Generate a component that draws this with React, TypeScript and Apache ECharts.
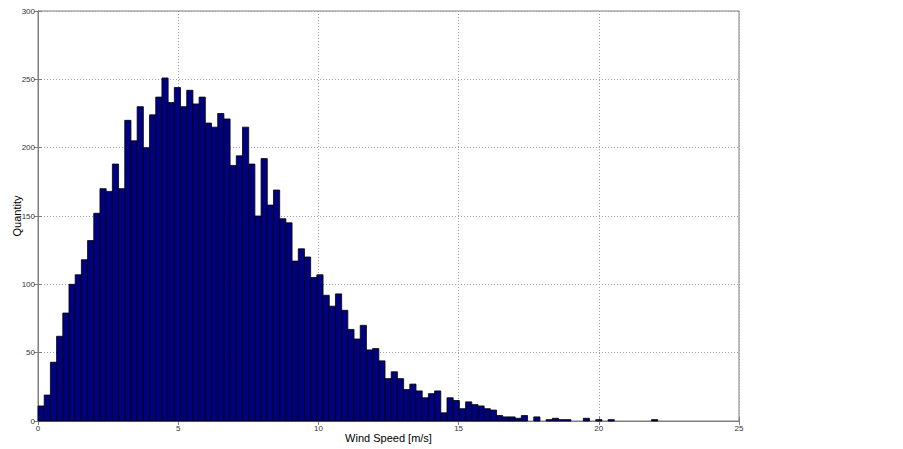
import React, { useEffect, useRef } from "react";
import * as echarts from "echarts";

const binWidth = 0.221;
const counts: number[] = [
  11, 19, 43, 62, 79, 100, 107, 118, 132, 152,
  170, 168, 188, 170, 220, 205, 230, 200, 224, 237,
  251, 233, 244, 230, 242, 232, 237, 218, 215, 225,
  221, 187, 194, 215, 188, 150, 192, 158, 169, 148,
  145, 117, 126, 120, 105, 107, 92, 84, 93, 81,
  67, 60, 70, 52, 53, 44, 31, 36, 31, 23,
  27, 22, 17, 20, 22, 6, 17, 15, 9, 14,
  12, 11, 9, 8, 4, 3, 3, 2, 4, 0,
  3, 0, 1, 2, 1, 1, 0, 0, 2, 0,
  1, 0, 1, 0, 0, 0, 0, 0, 0, 1,
];
const xTicks = { min: 0, max: 25, interval: 5 };
const yTicks = { min: 0, max: 300, interval: 50 };
const xLabel = "Wind Speed [m/s]";
const yLabel = "Quantity";

export default function App() {
  const ref = useRef<HTMLDivElement>(null);
  useEffect(() => {
    if (!ref.current) return;
    const chart = echarts.init(ref.current, null, { renderer: "svg" });
    const data = counts.map((c, i) => [i * binWidth, (i + 1) * binWidth, c]);
    const labelStyle = { fontSize: 8, color: "#333", fontFamily: "Liberation Sans, Arial, sans-serif" };
    chart.setOption({
      animation: false,
      backgroundColor: "#fff",
      grid: {
        left: 38, top: 11, right: 164, bottom: 28,
        containLabel: false, outerBoundsMode: "none",
        show: true, borderColor: "#7f7f7f", borderWidth: 1, backgroundColor: "#fff",
      },
      xAxis: [
        {
          type: "value",
          ...xTicks,
          position: "bottom",
          name: xLabel,
          nameLocation: "middle",
          nameGap: 11,
          nameMoveOverlap: false,
          nameTextStyle: { fontSize: 11, color: "#000", fontFamily: "Liberation Sans, Arial, sans-serif" },
          axisLine: { show: true, lineStyle: { color: "#7f7f7f", width: 1 } },
          axisTick: { show: true, inside: true, length: 4, lineStyle: { color: "#7f7f7f" } },
          axisLabel: { ...labelStyle, margin: 3 },
          splitLine: { show: true, lineStyle: { type: [1, 2], color: "#a0a0a0", width: 1 } },
        },
        {
          type: "value",
          ...xTicks,
          position: "top",
          axisLine: { show: true, lineStyle: { color: "#7f7f7f" } },
          axisTick: { show: true, inside: true, length: 4, lineStyle: { color: "#7f7f7f" } },
          axisLabel: { show: false },
          splitLine: { show: false },
        },
      ],
      yAxis: [
        {
          type: "value",
          ...yTicks,
          position: "left",
          name: yLabel,
          nameLocation: "middle",
          nameGap: 16,
          nameMoveOverlap: false,
          nameRotate: 90,
          nameTextStyle: { fontSize: 11, color: "#000", fontFamily: "Liberation Sans, Arial, sans-serif" },
          axisLine: { show: true, lineStyle: { color: "#7f7f7f", width: 1 } },
          axisTick: { show: true, inside: true, length: 4, lineStyle: { color: "#7f7f7f" } },
          axisLabel: { ...labelStyle, margin: 3 },
          splitLine: { show: true, lineStyle: { type: [1, 2], color: "#a0a0a0", width: 1 } },
        },
        {
          type: "value",
          ...yTicks,
          position: "right",
          axisLine: { show: true, lineStyle: { color: "#7f7f7f" } },
          axisTick: { show: true, inside: true, length: 4, lineStyle: { color: "#7f7f7f" } },
          axisLabel: { show: false },
          splitLine: { show: false },
        },
      ],
      series: [
        {
          type: "custom",
          xAxisIndex: 0,
          yAxisIndex: 0,
          encode: { x: [0, 1], y: 2 },
          data,
          renderItem: (params: any, api: any) => {
            const x0 = api.value(0);
            const x1 = api.value(1);
            const v = api.value(2);
            if (!v) return null;
            const p0 = api.coord([x0, v]);
            const p1 = api.coord([x1, 0]);
            return {
              type: "rect",
              shape: { x: p0[0], y: p0[1], width: p1[0] - p0[0], height: p1[1] - p0[1] },
              style: { fill: "#000080", stroke: "#000", lineWidth: 0.8 },
            };
          },
        },
      ],
    });
    return () => chart.dispose();
  }, []);
  return (
    <div
      ref={ref}
      style={{ position: "fixed", left: 0, top: 0, width: 903, height: 449, background: "#fff" }}
    />
  );
}
